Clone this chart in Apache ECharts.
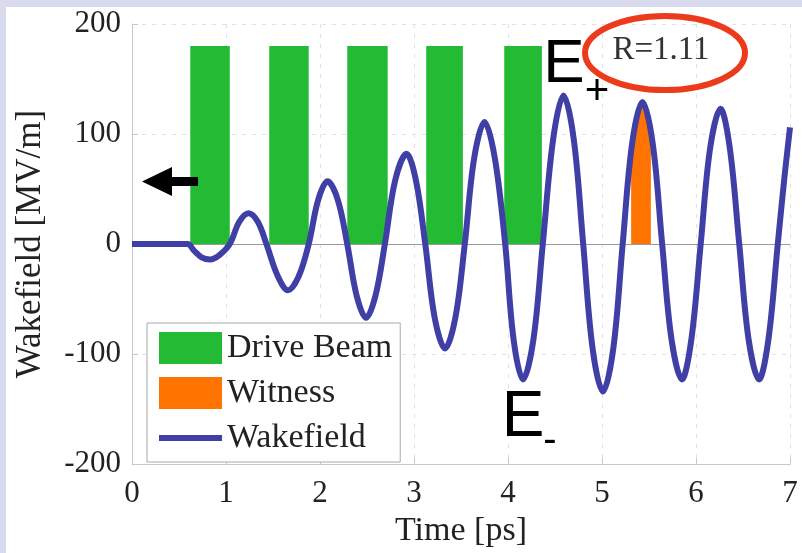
<!DOCTYPE html>
<html><head><meta charset="utf-8">
<script src="https://cdn.jsdelivr.net/npm/echarts@6/dist/echarts.min.js"></script>
<style>html,body{margin:0;padding:0;background:#fff}#c{width:802px;height:553px}</style>
</head><body><div id="c"></div><script>
const timeTicks = [0, 1, 2, 3, 4, 5, 6, 7];
const fieldTicks = [-200, -100, 0, 100, 200];
const driveStart = [0.62, 1.46, 2.29, 3.13, 3.96];
const driveEnd = [1.04, 1.88, 2.72, 3.52, 4.36];
const driveHeight = [180, 180, 180, 180, 180];
const witnessT = [5.31, 5.31, 5.37, 5.43, 5.48, 5.52, 5.52];
const witnessV = [0, 84, 116, 129, 120, 100, 0];
const wakeT = [0, 0.59, 0.66, 0.74, 0.83, 0.93, 1.04, 1.14, 1.24, 1.34, 1.43, 1.55, 1.66, 1.77, 1.88,
  1.98, 2.08, 2.19, 2.29, 2.39, 2.49, 2.59, 2.69, 2.80, 2.92, 3.02, 3.12, 3.22, 3.33, 3.44, 3.54,
  3.64, 3.75, 3.86, 3.97, 4.06, 4.16, 4.27, 4.37, 4.48, 4.59, 4.70, 4.80, 4.90, 5.01, 5.12, 5.22,
  5.32, 5.43, 5.54, 5.64, 5.74, 5.85, 5.95, 6.05, 6.15, 6.26, 6.36, 6.46, 6.56, 6.67, 6.77, 6.87,
  6.94, 7.0];
const wakeV = [0, 0, -6, -12, -14, -10, 0, 20, 28, 20, 0, -29, -42, -30, 0,
  40, 57, 40, 0, -47, -67, -47, 0, 58, 82, 58, 0, -67, -95, -67, 0,
  78, 111, 78, 0, -87, -123, -87, 0, 95, 135, 95, 0, -95, -134, -95, 0,
  91, 129, 91, 0, -87, -123, -87, 0, 87, 123, 87, 0, -87, -123, -87, 0,
  60, 106];

const GREEN = '#22bb33', ORANGE = '#ff7400', BLUE = '#3f3fa6';
const SERIF = '"Liberation Serif", "Times New Roman", serif';
const SANS = '"Liberation Sans", Arial, sans-serif';

const chart = echarts.init(document.getElementById('c'), null, {renderer: 'canvas'});
chart.setOption({
  animation: false,
  backgroundColor: '#ffffff',
  grid: {left: 132, right: 12, top: 24, bottom: 84, containLabel: false},
  xAxis: {
    type: 'value', min: timeTicks[0], max: timeTicks[timeTicks.length - 1], interval: 1,
    name: 'Time [ps]', nameLocation: 'middle', nameGap: 44,
    nameTextStyle: {fontFamily: SERIF, fontSize: 34, color: '#222'},
    axisLine: {onZero: false, lineStyle: {color: '#c8c8c8'}},
    axisTick: {inside: true, length: 6, lineStyle: {color: '#c8c8c8'}},
    axisLabel: {fontFamily: SERIF, fontSize: 31, color: '#222', margin: 14},
    splitLine: {show: true, lineStyle: {color: '#e2e2e2', type: [4, 6]}}
  },
  yAxis: {
    type: 'value', min: fieldTicks[0], max: fieldTicks[fieldTicks.length - 1], interval: 100,
    name: 'Wakefield [MV/m]', nameLocation: 'middle', nameGap: 84,
    nameTextStyle: {fontFamily: SERIF, fontSize: 35, color: '#222'},
    axisLine: {show: true, lineStyle: {color: '#c8c8c8'}},
    axisTick: {show: true, inside: true, length: 6, lineStyle: {color: '#c8c8c8'}},
    axisLabel: {fontFamily: SERIF, fontSize: 31, color: '#222', margin: 11},
    splitLine: {show: true, lineStyle: {color: '#e2e2e2', type: [4, 6]}}
  },
  legend: {
    orient: 'vertical', left: 147, top: 323,
    backgroundColor: '#ffffff', borderColor: '#a8a8a8', borderWidth: 1,
    padding: [8, 8, 7, 12], itemWidth: 63, itemHeight: 32, itemGap: 11,
    textStyle: {fontFamily: SERIF, fontSize: 34, lineHeight: 32, color: '#222'},
    data: [
      {name: 'Drive Beam', icon: 'rect', itemStyle: {color: GREEN}},
      {name: 'Witness', icon: 'rect', itemStyle: {color: ORANGE}},
      {name: 'Wakefield', icon: 'path://M0,0H63V6H0Z', itemStyle: {color: BLUE}}
    ]
  },
  series: [
    {
      name: 'Drive Beam', type: 'custom', z: 2,
      itemStyle: {color: GREEN},
      encode: {x: [0, 1], y: 2},
      data: driveStart.map((s, i) => [s, driveEnd[i], driveHeight[i]]),
      renderItem: function (params, api) {
        const p0 = api.coord([api.value(0), 0]);
        const p1 = api.coord([api.value(1), api.value(2)]);
        return {type: 'rect', shape: {x: p0[0], y: p1[1], width: p1[0] - p0[0], height: p0[1] - p1[1]},
          style: {fill: GREEN}};
      }
    },
    {
      name: 'Witness', type: 'line', z: 3, symbol: 'none', smooth: 0.3,
      itemStyle: {color: ORANGE},
      lineStyle: {width: 0, color: ORANGE},
      areaStyle: {color: ORANGE, opacity: 1, origin: 0},
      data: witnessT.map((t, i) => [t, witnessV[i]])
    },
    {
      name: 'Wakefield', type: 'line', z: 4, symbol: 'none', smooth: 0.35,
      itemStyle: {color: BLUE},
      lineStyle: {width: 6, color: BLUE},
      data: wakeT.map((t, i) => [t, wakeV[i]]),
      markLine: {
        silent: true, symbol: 'none', z: 1, label: {show: false},
        lineStyle: {color: '#9a9a9a', width: 1, type: 'solid'},
        data: [{yAxis: 0}]
      }
    }
  ],
  graphic: [
    {type: 'rect', z: 100, shape: {x: 0, y: 0, width: 802, height: 7}, style: {fill: '#dadaef'}},
    {type: 'rect', z: 100, shape: {x: 0, y: 0, width: 6, height: 553}, style: {fill: '#dadaef'}},
    {type: 'polygon', z: 100, shape: {points: [[142, 181.5], [172, 167], [172, 177], [198, 177], [198, 186], [172, 186], [172, 196]]},
      style: {fill: '#000'}},
    {type: 'text', z: 100, x: 564, y: 65, style: {text: 'E', font: '62px ' + SANS, fill: '#000', align: 'center', verticalAlign: 'middle'}},
    {type: 'text', z: 100, x: 597, y: 92, style: {text: '+', font: '42px ' + SANS, fill: '#000', align: 'center', verticalAlign: 'middle'}},
    {type: 'text', z: 100, x: 523, y: 418, style: {text: 'E', font: '64px ' + SANS, fill: '#000', align: 'center', verticalAlign: 'middle'}},
    {type: 'text', z: 100, x: 550, y: 441, style: {text: '-', font: '40px ' + SANS, fill: '#000', align: 'center', verticalAlign: 'middle'}},
    {type: 'ellipse', z: 100, shape: {cx: 665, cy: 53, rx: 80, ry: 37}, style: {fill: 'none', stroke: '#ec3a1c', lineWidth: 6}},
    {type: 'text', z: 100, x: 661, y: 50, style: {text: 'R=1.11', font: '33px ' + SERIF, fill: '#333', align: 'center', verticalAlign: 'middle'}}
  ]
});
</script></body></html>
